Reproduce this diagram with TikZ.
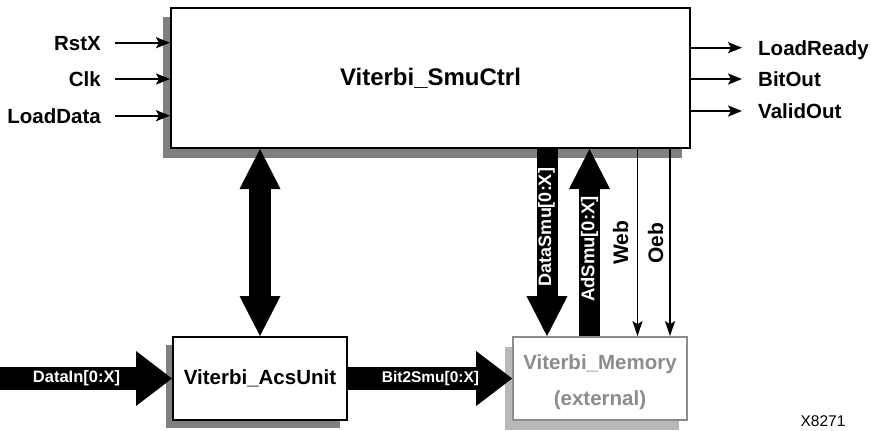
\documentclass[tikz,border=0pt]{standalone}
\usepackage{fontspec}
\setmainfont{Liberation Sans}
\usetikzlibrary{arrows.meta,calc}
\definecolor{shadowdark}{HTML}{808080}
\definecolor{shadowlight}{HTML}{B8B8B8}
\definecolor{memgray}{HTML}{8C8C8C}
\begin{document}
\begin{tikzpicture}[x=1pt,y=-1pt,
  block/.style={draw=black,line width=2pt,fill=white,inner sep=0pt},
  memblock/.style={draw=memgray,line width=1.7pt,fill=white,inner sep=0pt,text=memgray},
  lbl/.style={font=\bfseries\fontsize{20.5}{24}\selectfont,inner sep=0pt,text height=14.7pt,text depth=0pt},
  vlbl/.style={font=\bfseries\fontsize{21}{24}\selectfont,inner sep=0pt,text height=15pt,text depth=0pt,rotate=90},
  wlbl/.style={font=\bfseries\fontsize{16.5}{20}\selectfont,inner sep=0pt,text=white},
  sig/.style={line width=1.8pt,-{Stealth[length=14pt,width=11pt,inset=3pt]}},
  thinsig/.style={line width=1.3pt,-{Stealth[length=15pt,width=10pt,inset=3pt]}},
  fatv/.style={line width=21pt,-{Triangle[length=40pt,width=41pt,line width=0pt]}},
  fath/.style={line width=23pt,-{Triangle[length=36pt,width=55pt,line width=0pt]}},
  dbl/.style={line width=22pt,{Triangle[length=40pt,width=41pt,line width=0pt]}-{Triangle[length=40pt,width=41pt,line width=0pt]}}
]
\useasboundingbox (0,0) rectangle (871,431);

% shadows
\fill[shadowdark] (163,17) rectangle (682,158);
\fill[shadowdark] (166,345) rectangle (340,428);
\fill[shadowlight] (505,347) rectangle (679,430);

% blocks
\node[block,minimum width=519pt,minimum height=140pt,font=\bfseries\fontsize{24}{28}\selectfont] (main) at (430.5,78) {Viterbi\_SmuCtrl};
\node[block,minimum width=174pt,minimum height=83pt,font=\bfseries\fontsize{20.5}{24}\selectfont] (acs) at (260,378.5) {Viterbi\_AcsUnit};
\node[memblock,minimum width=174pt,minimum height=83pt,inner sep=0pt] (mem) at (600,378.5) {};
\node[text=memgray,align=center,inner sep=0pt,font=\bfseries\fontsize{20.5}{36}\selectfont] (memtxt) at (600,382) {Viterbi\_Memory\\(external)};

% left inputs
\node[lbl,anchor=east] (rstx) at (101,42.7) {RstX};
\node[lbl,anchor=east] (clk) at (101,79) {Clk};
\node[lbl,anchor=east] (ldata) at (101,115.7) {LoadData};
\draw[sig] ([xshift=14pt]rstx.east) -- (rstx -| main.west);
\draw[sig] ([xshift=14pt]clk.east |- clk) -- (clk -| main.west);
\draw[sig] ([xshift=14pt]ldata.east) -- (ldata -| main.west);

% right outputs
\node[lbl,anchor=west] (lready) at (758,47.7) {LoadReady};
\node[lbl,anchor=west] (bitout) at (758,79) {BitOut};
\node[lbl,anchor=west] (vout) at (758,111) {ValidOut};
\draw[sig] (lready -| main.east) -- ([xshift=-16pt]lready.west);
\draw[sig] (bitout -| main.east) -- ([xshift=-16pt]bitout.west);
\draw[sig] (vout -| main.east) -- ([xshift=-16pt]vout.west);

% double arrow
\draw[dbl] (acs.north) -- (main.south -| acs.north);

% DataIn and Bit2Smu
\coordinate (dinstart) at (0,378.5);
\draw[fath] (dinstart) -- (acs.west);
\node[wlbl] (dinlbl) at (76.5,378) {DataIn[0:X]};
\draw[fath] (acs.east) -- (mem.west);
\node[wlbl,font=\bfseries\fontsize{15.5}{18}\selectfont] (b2slbl) at (430.5,378) {Bit2Smu[0:X]};

% DataSmu and AdSmu
\coordinate (dsx) at (547,0);
\coordinate (asx) at (589.5,0);
\draw[fatv] (main.south -| dsx) -- (mem.north -| dsx);
\draw[fatv] (mem.north -| asx) -- (main.south -| asx);
\node[wlbl,rotate=90,font=\bfseries\fontsize{18}{20}\selectfont] (dslbl) at (546.5,227) {DataSmu[0:X]};
\node[wlbl,rotate=90,font=\bfseries\fontsize{18.5}{20}\selectfont] (aslbl) at (589.5,249) {AdSmu[0:X]};

% Web and Oeb
\coordinate (webx) at (637.5,0);
\coordinate (oebx) at (670,0);
\draw[thinsig] (main.south -| webx) -- (mem.north -| webx);
\draw[thinsig] (main.south -| oebx) -- (mem.north -| oebx);
\node[vlbl] (weblbl) at (620.5,243) {Web};
\node[vlbl] (oeblbl) at (655.5,243) {Oeb};

% figure id
\node[font=\fontsize{15.5}{18}\selectfont,inner sep=0pt] (fid) at (823,421.5) {X8271};
\end{tikzpicture}
\end{document}
